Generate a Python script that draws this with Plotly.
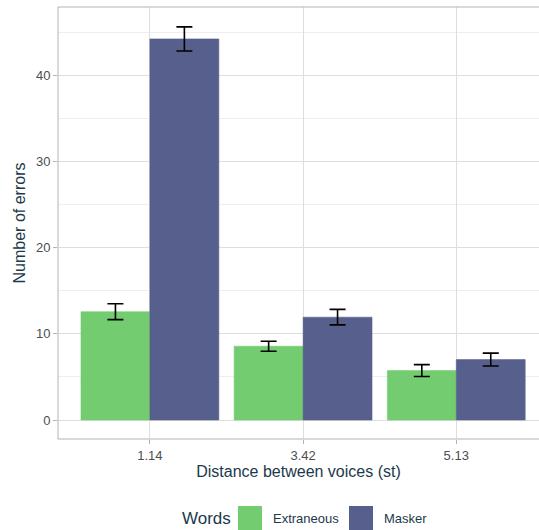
import plotly.graph_objects as go

categories = ["1.14", "3.42", "5.13"]
extraneous = [12.56, 8.56, 5.73]
extraneous_err = [0.92, 0.58, 0.69]
masker = [44.2, 11.93, 7.01]
masker_err = [1.4, 0.9, 0.75]
series_names = ["Extraneous", "Masker"]
colors = ["#73CC70", "#57608D"]
edge_colors = ["rgba(115,204,112,0.55)", "rgba(87,96,141,0.55)"]

W, H = 539, 530
ML, MR, MT, MB = 58, 0, 7, 91
PW, PH = W - ML - MR, H - MT - MB

def px_x(p):
    return (p - ML) / PW

def px_y(p):
    return (H - MB - p) / PH

fig = go.Figure()
for name, vals, errs, col, ecol in zip(series_names, [extraneous, masker],
                                       [extraneous_err, masker_err], colors, edge_colors):
    fig.add_trace(go.Bar(
        x=categories, y=vals, name=name,
        marker=dict(color=col, line=dict(color=ecol, width=1)),
        error_y=dict(type="data", array=errs, visible=True,
                     color="black", thickness=1.6, width=8),
        showlegend=False,
    ))

FONT = "Liberation Sans, Arial, sans-serif"
axis_font = dict(family=FONT, size=13, color="#4D4D4D")
title_color = "#1B3A4B"

fig.update_layout(
    width=W, height=H,
    margin=dict(l=ML, r=MR, t=MT, b=MB, pad=0),
    paper_bgcolor="white", plot_bgcolor="white",
    barmode="group", bargap=0.1, bargroupgap=0,
    font=dict(family=FONT),
    xaxis=dict(
        type="category", range=[-0.6, 2.54],
        showgrid=True, gridcolor="#DEDEDE", gridwidth=1,
        ticks="outside", ticklen=4, tickcolor="#B3B3B3", tickwidth=1,
        tickfont=axis_font, showline=False, zeroline=False,
        title=dict(text="Distance between voices (st)",
                   font=dict(family=FONT, size=16, color=title_color),
                   standoff=4),
    ),
    yaxis=dict(
        range=[-2.2, 47.9], tickvals=[0, 10, 20, 30, 40],
        showgrid=True, gridcolor="#DEDEDE", gridwidth=1,
        minor=dict(tickvals=[5, 15, 25, 35, 45], showgrid=True, gridcolor="#EEEEEE", gridwidth=1),
        ticks="outside", ticklen=4, tickcolor="#B3B3B3", tickwidth=1,
        tickfont=axis_font, showline=False, zeroline=False,
        title=dict(text="Number of errors",
                   font=dict(family=FONT, size=16, color=title_color),
                   standoff=6),
    ),
)

# panel border (top, left, bottom)
border = dict(color="#B3B3B3", width=1)
fig.add_shape(type="line", xref="paper", yref="paper", x0=0, x1=1, y0=1, y1=1, line=border)
fig.add_shape(type="line", xref="paper", yref="paper", x0=0, x1=1, y0=0, y1=0, line=border)
fig.add_shape(type="line", xref="paper", yref="paper", x0=0, x1=0, y0=0, y1=1, line=border)

# legend
leg_y = 518
fig.add_annotation(text="Words", xref="paper", yref="paper", x=px_x(180), y=px_y(leg_y),
                   xanchor="left", yanchor="middle", showarrow=False,
                   font=dict(family=FONT, size=17, color=title_color))
key_x = [238, 349]
label_x = [271, 382]
for name, col, kx, lx in zip(series_names, colors, key_x, label_x):
    fig.add_shape(type="rect", xref="paper", yref="paper",
                  x0=px_x(kx), x1=px_x(kx + 24), y0=px_y(506), y1=px_y(531),
                  fillcolor=col, line=dict(width=0))
    fig.add_annotation(text=name, xref="paper", yref="paper", x=px_x(lx), y=px_y(leg_y),
                       xanchor="left", yanchor="middle", showarrow=False,
                       font=dict(family=FONT, size=13, color=title_color))

fig.write_html(
    "out.html",
    config={"displayModeBar": False},
    post_script="document.body.style.margin='0';document.body.style.overflow='hidden';",
)
